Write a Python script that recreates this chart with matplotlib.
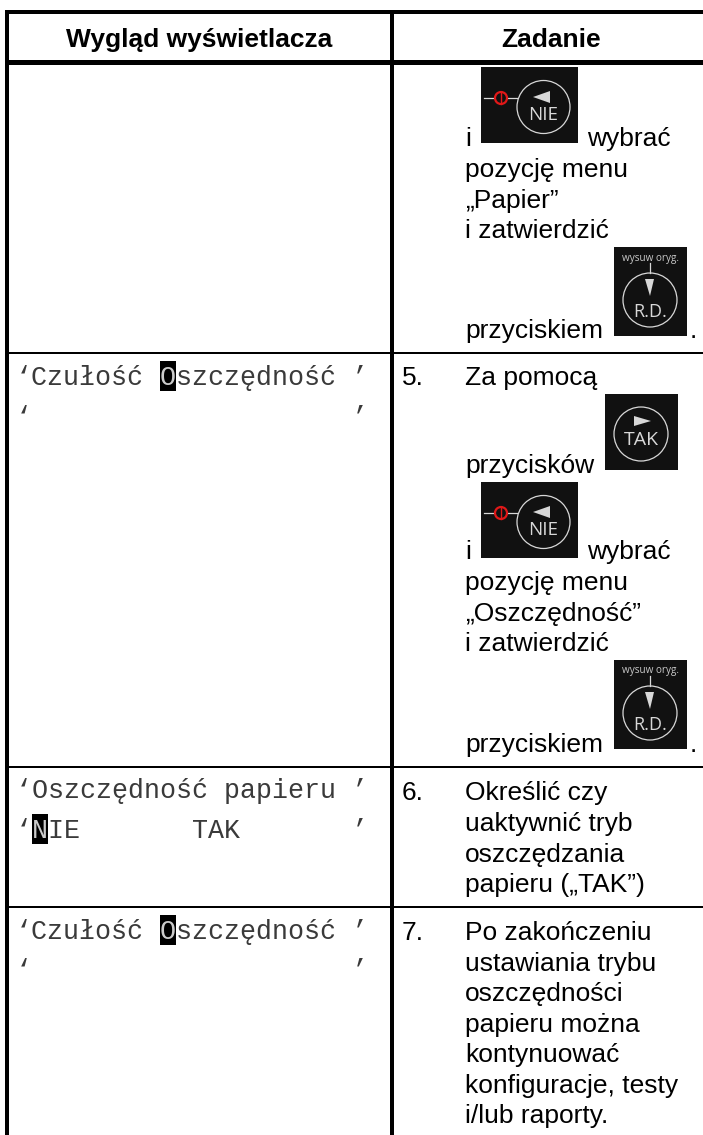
import matplotlib
matplotlib.use("Agg")
import matplotlib.pyplot as plt
from matplotlib.patches import Rectangle, Circle, Polygon

plt.rcParams['font.family'] = ['Liberation Sans', 'DejaVu Sans']

headers = ["Wygląd wyświetlacza", "Zadanie"]
row_lines = [353, 767, 907]
# text, baseline of the line, index of the highlighted char (None = no highlight)
display_rows = [
    ("‘Czułość Oszczędność ’", 385, 9),
    ("‘                    ’", 425, None),
    ("‘Oszczędność papieru ’", 798, None),
    ("‘NIE       TAK       ’", 838, 1),
    ("‘Czułość Oszczędność ’", 939, 9),
    ("‘                    ’", 978, None),
]
numbers = [("5.", 385), ("6.", 800), ("7.", 940)]
task_lines = [
    ("i", 465, 146), ("wybrać", 587, 146),
    ("pozycję menu", 465, 177), ("„Papier”", 465, 208), ("i zatwierdzić", 465, 238),
    ("przyciskiem", 465, 338), (".", 690, 338),
    ("Za pomocą", 465, 385), ("przycisków", 465, 473), ("i", 465, 559), ("wybrać", 587, 559),
    ("pozycję menu", 465, 590), ("„Oszczędność”", 465, 621), ("i zatwierdzić", 465, 651),
    ("przyciskiem", 465, 752), (".", 690, 752),
    ("Określić czy", 465, 800), ("uaktywnić tryb", 465, 831), ("oszczędzania", 465, 862), ("papieru („TAK”)", 465, 892),
    ("Po zakończeniu", 465, 940), ("ustawiania trybu", 465, 971), ("oszczędności", 465, 1001), ("papieru można", 465, 1032),
    ("kontynuować", 465, 1062), ("konfiguracje, testy", 465, 1093), ("i/lub raporty.", 465, 1123),
]
nie_keys = [(481, 67), (481, 482)]
tak_keys = [(605, 394)]
rd_keys = [(614, 247), (614, 660)]

KEY = "#111111"
INK = "#d8d8d8"
RED = "#e01818"
MONO = "#3a3a3a"
CHAR_W = 16


def nie_key(ax, x, y):
    ax.add_patch(Rectangle((x, y), 97, 76, fc=KEY, ec="none"))
    ax.add_patch(Circle((x + 62.5, y + 40), 26.5, fc="none", ec=INK, lw=0.9))
    ax.add_patch(Polygon([[x + 52, y + 30], [x + 69, y + 24], [x + 69, y + 36]], fc=INK, ec="none"))
    ax.text(x + 62.5, y + 48, "NIE", color=INK, fontsize=13.5, ha="center", va="center", family="Open Sans")
    ax.plot([x + 3, x + 36], [y + 31, y + 31], color=INK, lw=0.9)
    ax.add_patch(Circle((x + 20, y + 31), 6, fc=KEY, ec=RED, lw=1.6, zorder=3))
    ax.plot([x + 20, x + 20], [y + 25, y + 37], color=RED, lw=1, zorder=4)


def rd_key(ax, x, y):
    ax.add_patch(Rectangle((x, y), 73, 89, fc=KEY, ec="none"))
    ax.text(x + 36, y + 11, "wysuw oryg.", color="#c8c8c8", fontsize=7.2, ha="center", va="center", family="Open Sans")
    ax.plot([x + 36, x + 36], [y + 16, y + 26], color=INK, lw=0.9)
    ax.add_patch(Circle((x + 36, y + 53), 27, fc="none", ec=INK, lw=0.9))
    ax.add_patch(Polygon([[x + 31, y + 32], [x + 40, y + 32], [x + 36, y + 49]], fc=INK, ec="none"))
    ax.text(x + 36, y + 65, "R.D.", color=INK, fontsize=13, ha="center", va="center", family="Open Sans")


def tak_key(ax, x, y):
    ax.add_patch(Rectangle((x, y), 73, 76, fc=KEY, ec="none"))
    ax.add_patch(Circle((x + 36, y + 40), 27, fc="none", ec=INK, lw=0.9))
    ax.add_patch(Polygon([[x + 46, y + 27], [x + 29, y + 22], [x + 29, y + 32]], fc=INK, ec="none"))
    ax.text(x + 36, y + 46, "TAK", color=INK, fontsize=14, ha="center", va="center", family="Open Sans")


def mono(ax, x, y, s, color=MONO):
    ax.text(x, y, s, fontsize=19.2, family="Liberation Mono", ha="left", va="baseline", color=color, zorder=4)


fig = plt.figure(figsize=(7.03, 11.35), dpi=100)
ax = fig.add_axes([0, 0, 1, 1])
ax.set_xlim(0, 703)
ax.set_ylim(1135, 0)
ax.axis("off")

# frame
ax.add_patch(Rectangle((5, 10), 4, 1125, fc="black", ec="none"))
ax.add_patch(Rectangle((390, 10), 4, 1125, fc="black", ec="none"))
ax.add_patch(Rectangle((5, 10), 698, 4, fc="black", ec="none"))
ax.add_patch(Rectangle((5, 60), 698, 5, fc="black", ec="none"))
for yy in row_lines:
    ax.add_patch(Rectangle((5, yy - 1), 698, 2, fc="black", ec="none"))

ax.text(199.5, 47, headers[0], fontsize=19, fontweight="bold", ha="center", va="baseline")
ax.text(551, 47, headers[1], fontsize=19, fontweight="bold", ha="center", va="baseline")

# display column, split round the highlighted char so the pieces do not overlap
for line, base, hl in display_rows:
    if hl is None:
        mono(ax, 16, base, line)
        continue
    x0 = 16 + hl * CHAR_W
    ax.add_patch(Rectangle((x0, base - 24), CHAR_W, 30, fc="black", ec="none"))
    mono(ax, 16, base, line[:hl].rstrip())
    mono(ax, x0, base, line[hl], color="#cccccc")
    mono(ax, x0 + CHAR_W, base, line[hl + 1:])

for label, yy in numbers:
    ax.text(402, yy, label, fontsize=19, ha="left", va="baseline", color="black")

for label, xx, yy in task_lines:
    ax.text(xx, yy, label, fontsize=19, ha="left", va="baseline", color="black")

for x0, y0 in nie_keys:
    nie_key(ax, x0, y0)
for x0, y0 in tak_keys:
    tak_key(ax, x0, y0)
for x0, y0 in rd_keys:
    rd_key(ax, x0, y0)

fig.savefig("out.png", dpi=100)
